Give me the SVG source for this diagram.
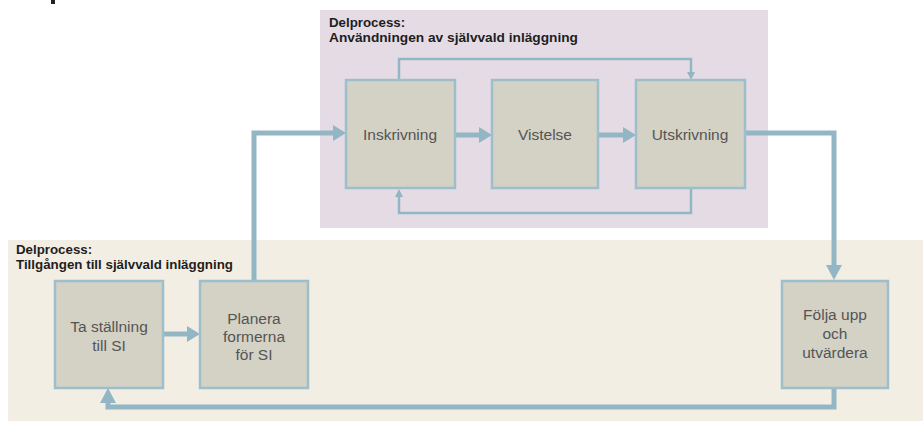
<svg xmlns="http://www.w3.org/2000/svg" width="923" height="421" viewBox="0 0 923 421">
  <defs>
    <style>
      .lane-use { fill: #e5dbe5; }
      .lane-access { fill: #f3eee4; }
      .box { fill: #d4d1c5; stroke: #9dbecb; stroke-width: 2.5; }
      .lbl { font-family: "Liberation Sans", Arial, sans-serif; font-size: 13.3px; font-weight: bold; fill: #1e1e1e; }
      .txt { font-family: "Liberation Sans", Arial, sans-serif; font-size: 15.5px; fill: #555555; text-anchor: middle; }
      .flow { fill: none; stroke: #93b6c4; stroke-width: 5; }
      .loop { fill: none; stroke: #93b6c4; stroke-width: 2.5; }
      .head { fill: #93b6c4; }
    </style>
  </defs>

  <rect x="0" y="0" width="923" height="421" fill="#ffffff"/>
  <rect x="51" y="0" width="4" height="4" fill="#222222"/>

  <!-- swimlanes -->
  <g id="lane-anvandning">
    <rect class="lane-use" x="320" y="10" width="448" height="218"/>
    <text class="lbl" x="329" y="27">Delprocess:</text>
    <text class="lbl" x="329" y="42" textLength="249" lengthAdjust="spacingAndGlyphs">Användningen av självvald inläggning</text>
  </g>
  <g id="lane-tillgang">
    <rect class="lane-access" x="8" y="240" width="915" height="181"/>
    <text class="lbl" x="16" y="254">Delprocess:</text>
    <text class="lbl" x="16" y="269" textLength="217" lengthAdjust="spacingAndGlyphs">Tillgången till självvald inläggning</text>
  </g>

  <!-- connectors -->
  <g id="connectors">
    <!-- Planera -> Inskrivning -->
    <path class="flow" d="M254 281 V133 H333"/>
    <polygon class="head" points="333,125 346,133 333,141"/>
    <!-- Inskrivning -> Vistelse -->
    <path class="flow" d="M456 135 H480"/>
    <polygon class="head" points="479,127 492,135 479,143"/>
    <!-- Vistelse -> Utskrivning -->
    <path class="flow" d="M599 135 H624"/>
    <polygon class="head" points="623,127 636,135 623,143"/>
    <!-- Utskrivning -> Följa upp -->
    <path class="flow" d="M746 133 H834 V266"/>
    <polygon class="head" points="826,265 834,280 842,265"/>
    <!-- Följa upp -> Ta ställning -->
    <path class="flow" d="M834 389 V407 H108 V402"/>
    <polygon class="head" points="100,403 108,388 116,403"/>
    <!-- Ta ställning -> Planera -->
    <path class="flow" d="M164 334 H188"/>
    <polygon class="head" points="187,326 200,334 187,342"/>
    <!-- Inskrivning -> Utskrivning (skip) -->
    <path class="loop" d="M399 80 V59 H691 V73"/>
    <polygon class="head" points="687,72 691,80 695,72"/>
    <!-- Utskrivning -> Inskrivning (return) -->
    <path class="loop" d="M691 189 V213 H399 V196"/>
    <polygon class="head" points="395,197 399,189 403,197"/>
  </g>

  <!-- nodes -->
  <g id="node-inskrivning">
    <rect class="box" x="346" y="80" width="109" height="108"/>
    <text class="txt" x="400" y="140">Inskrivning</text>
  </g>
  <g id="node-vistelse">
    <rect class="box" x="492" y="80" width="106" height="108"/>
    <text class="txt" x="545" y="140">Vistelse</text>
  </g>
  <g id="node-utskrivning">
    <rect class="box" x="636" y="80" width="109" height="108"/>
    <text class="txt" x="690" y="140">Utskrivning</text>
  </g>
  <g id="node-ta-stallning">
    <rect class="box" x="55" y="281" width="108" height="107"/>
    <text class="txt" x="109" y="332">Ta ställning</text>
    <text class="txt" x="109" y="351">till SI</text>
  </g>
  <g id="node-planera">
    <rect class="box" x="200" y="281" width="108" height="107"/>
    <text class="txt" x="254" y="324">Planera</text>
    <text class="txt" x="254" y="342">formerna</text>
    <text class="txt" x="254" y="360">för SI</text>
  </g>
  <g id="node-folja-upp">
    <rect class="box" x="782" y="281" width="106" height="107"/>
    <text class="txt" x="835" y="320">Följa upp</text>
    <text class="txt" x="835" y="339">och</text>
    <text class="txt" x="835" y="358">utvärdera</text>
  </g>
</svg>
